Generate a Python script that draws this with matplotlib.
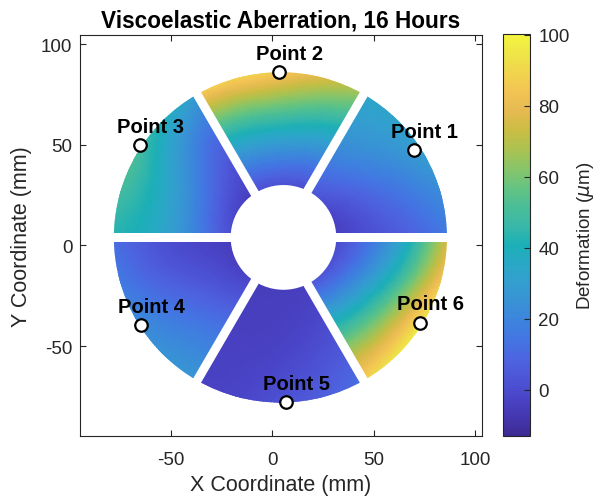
import numpy as np
import matplotlib
matplotlib.use('Agg')
import matplotlib.pyplot as plt
import matplotlib.tri as mtri
from matplotlib.colors import LinearSegmentedColormap, Normalize
from matplotlib.cm import ScalarMappable
from matplotlib.patches import Wedge, Circle, Rectangle
from matplotlib.transforms import Affine2D

plt.rcParams['font.family'] = ['Liberation Sans', 'DejaVu Sans']
plt.rcParams['mathtext.fontset'] = 'dejavusans'
plt.rcParams['axes.unicode_minus'] = False

# ---------------- data ----------------
point_labels = ['Point 1', 'Point 2', 'Point 3', 'Point 4', 'Point 5', 'Point 6']
point_x = [70.0, 3.3, -65.2, -64.7, 6.7, 72.8]
point_y = [47.5, 86.0, 50.0, -39.5, -77.9, -38.3]

segment_start_deg = [0, 60, 120, 180, 240, 300]
node_radius = [22, 54, 86]                 # sample radii (mm)
node_angle_offset = [-3, 15, 30, 45, 63]   # sample angles from segment start (deg)

# deformation samples (um): rows = radius (inner -> outer), cols = angle (ccw)
seg1_values = [[-5, -5, -3, 0, 3],
               [3, 8, 14, 20, 24],
               [16, 24, 32, 34, 34]]
seg2_values = [[-4, -3, -2, -2, -3],
               [30, 36, 40, 40, 38],
               [66, 82, 93, 96, 92]]
seg3_values = [[-6, -5, -4, -2, 0],
               [5, 15, 25, 30, 30],
               [30, 44, 54, 50, 42]]
seg4_values = [[-6, -5, -5, -4, -3],
               [0, 3, 8, 12, 14],
               [12, 18, 24, 27, 28]]
seg5_values = [[-5, -5, -5, -5, -5],
               [-4, -4, -3, -1, 2],
               [-3, -2, 3, 8, 15]]
seg6_values = [[0, -2, -3, -4, -4],
               [48, 45, 40, 32, 24],
               [90, 102, 104, 92, 80]]
segment_values = [seg1_values, seg2_values, seg3_values,
                  seg4_values, seg5_values, seg6_values]

color_min, color_max = -13.1, 100.2
cbar_ticks = [0, 20, 40, 60, 80, 100]
axis_ticks = [-50, 0, 50, 100]

# ---------------- style / geometry ----------------
parula_anchors = np.array([
    [0.2422, 0.1504, 0.6603], [0.2647, 0.1978, 0.7952], [0.2783, 0.2559, 0.8991],
    [0.2810, 0.3228, 0.9579], [0.2699, 0.3892, 0.9906], [0.2206, 0.4603, 0.9973],
    [0.1786, 0.5289, 0.9682], [0.1540, 0.5902, 0.9218], [0.1248, 0.6459, 0.8883],
    [0.0689, 0.6948, 0.8394], [0.0067, 0.7312, 0.7660], [0.1408, 0.7584, 0.6842],
    [0.2161, 0.7843, 0.5923], [0.3406, 0.8008, 0.4789], [0.5044, 0.7993, 0.3480],
    [0.6720, 0.7793, 0.2227], [0.8203, 0.7498, 0.1535], [0.9393, 0.7288, 0.2100],
    [0.9970, 0.7659, 0.2199], [0.9786, 0.8386, 0.1766], [0.9597, 0.9135, 0.1423],
    [0.9769, 0.9839, 0.0805]])
# slightly muted, as in the reference rendering
lum = (parula_anchors @ np.array([0.299, 0.587, 0.114]))[:, None]
muted = np.clip(0.8 * parula_anchors + 0.2 * lum, 0, 1)
anchor_pos = [i / 63 for i in range(0, 64, 3)]
parula = LinearSegmentedColormap.from_list('parula', list(zip(anchor_pos, muted)), N=256)

cx, cy = 4.0, 4.0
outer_r = 82.0
hole_cx, hole_cy, hole_r = 5.5, 4.0, 26.0
gap_w = 4.4
dark = '#262626'

fig = plt.figure(figsize=(5.99, 5.02), dpi=100)
ax = fig.add_axes([0.1336, 0.1295, 0.6711, 0.7988])
cax = fig.add_axes([0.8397, 0.1295, 0.0451, 0.8008])

norm = Normalize(vmin=color_min, vmax=color_max)

for start, vals in zip(segment_start_deg, segment_values):
    rr, aa = np.meshgrid(node_radius, np.deg2rad(np.array(node_angle_offset) + start), indexing='ij')
    xs = (cx + rr * np.cos(aa)).ravel()
    ys = (cy + rr * np.sin(aa)).ravel()
    nr, na = rr.shape
    tris = []
    for i in range(nr - 1):
        for j in range(na - 1):
            a = i * na + j
            b = a + 1
            c = a + na
            d = c + 1
            tris.append([a, b, d])
            tris.append([a, d, c])
    tri = mtri.Triangulation(xs, ys, tris)
    refiner = mtri.UniformTriRefiner(tri)
    tri_f, z_f = refiner.refine_field(np.array(vals, dtype=float).ravel(), subdiv=4)
    coll = ax.tripcolor(tri_f, z_f, shading='gouraud', cmap=parula, norm=norm, zorder=1)
    clip = Wedge((cx, cy), outer_r, start, start + 60, width=outer_r - 15, transform=ax.transData)
    coll.set_clip_path(clip)

# gaps between segments and central hole
for ang in [0, 60, 120]:
    rect = Rectangle((cx - 88, cy - gap_w / 2), 176, gap_w, facecolor='white',
                     edgecolor='none', zorder=1.5)
    rect.set_transform(Affine2D().rotate_deg_around(cx, cy, ang) + ax.transData)
    ax.add_patch(rect)
ax.add_patch(Circle((hole_cx, hole_cy), hole_r, facecolor='white', edgecolor='none', zorder=1.6))

# points
ax.plot(point_x, point_y, linestyle='none', marker='o', markersize=9,
        markerfacecolor='white', markeredgecolor='black', markeredgewidth=1.6, zorder=3)
for lab, px, py in zip(point_labels, point_x, point_y):
    ax.text(px + 5, py + 9.3, lab, ha='center', va='center', fontsize=14.5,
            fontweight='bold', color='black', zorder=4)

ax.set_xlim(-94.7, 103.3)
ax.set_ylim(-94.6, 104.5)
ax.set_xticks(axis_ticks)
ax.set_yticks(axis_ticks)
ax.tick_params(direction='in', top=True, right=True, length=4, width=0.8,
               labelsize=13.5, colors=dark)
ax.tick_params(axis='x', pad=10.5)
ax.tick_params(axis='y', pad=5.5)
for sp in ax.spines.values():
    sp.set_color(dark)
    sp.set_linewidth(0.8)
ax.set_xlabel('X Coordinate (mm)', fontsize=15.5, color=dark, labelpad=4.5)
ax.set_ylabel('Y Coordinate (mm)', fontsize=15.5, color=dark, labelpad=6.5)
ax.set_title('Viscoelastic Aberration, 16 Hours', fontsize=16.3, fontweight='bold',
             color='black', pad=6)

sm = ScalarMappable(norm=norm, cmap=parula)
cb = fig.colorbar(sm, cax=cax, ticks=cbar_ticks)
cb.outline.set_edgecolor(dark)
cb.outline.set_linewidth(0.8)
cax.tick_params(direction='in', length=4, width=0.8, labelsize=13.5, colors=dark, pad=6)
cb.set_label('Deformation ($\\mu$m)', fontsize=13.5, color=dark, labelpad=3.5)

fig.savefig('out.png', dpi=100)
